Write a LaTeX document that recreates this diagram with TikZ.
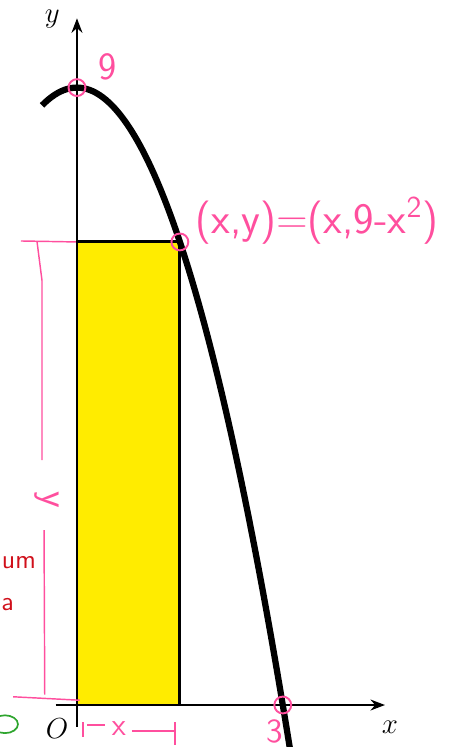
\documentclass[tikz,border=0pt]{standalone}
\usepackage{xcolor}
\usepackage{tikz}
\usetikzlibrary{arrows.meta,positioning,calc}
\definecolor{ink}{HTML}{FF4F9E}
\definecolor{boxfill}{HTML}{FFEC00}
\definecolor{redink}{HTML}{D0101B}
\definecolor{greenink}{HTML}{2EA52E}

\begin{document}
\begin{tikzpicture}[
  axis/.style={-{Stealth[length=6pt,width=4.5pt]},line width=1.2pt},
  curve/.style={line width=2.6pt},
  box/.style={fill=boxfill,draw=black,line width=1.2pt},
  pen/.style={draw=ink,line width=0.6pt},
  hand/.style={text=ink,font=\sffamily\fontsize{16}{18}\selectfont,inner sep=0pt},
  note/.style={text=redink,font=\sffamily\fontsize{11}{13}\selectfont,inner sep=0pt,anchor=west},
  dot/.style={draw=ink,line width=0.8pt,circle,inner sep=0pt,minimum size=7pt}
]
\useasboundingbox (-1.122,-0.612) rectangle (5.437,10.277);
% rectangle under the curve
\coordinate (o) at (0,0);
\coordinate (c) at (1.5,6.75);
\draw[box] (o) rectangle (c);
% axes
\coordinate (xs) at (-0.31,0);
\coordinate (xe) at (4.49,0);
\coordinate (ys) at (0,-0.32);
\coordinate (ye) at (0,10.01);
\draw[axis] (xs) -- (xe);
\draw[axis] (ys) -- (ye);
\node[font=\large,inner sep=0pt] (xl) at (4.56,-0.32) {$x$};
\node[font=\large,inner sep=0pt] (yl) at (-0.36,10.0) {$y$};
\node[font=\large,inner sep=0pt] (ol) at (-0.29,-0.34) {$O$};
% y = 9 - x^2
\draw[curve] plot[domain=-0.51:3.16,samples=80,smooth] (\x,{9-\x*\x});
% marked points
\node[dot] (top) at (0,9) {};
\node[dot] (corner) at (c) {};
\node[dot] (root) at (3,0) {};
\node[hand] (nine) at (0.44,9.30) {9};
\node[hand,font=\sffamily\fontsize{18}{20}\selectfont] (pt) at (3.50,7.06) {(x,y)=(x,9-x\textsuperscript{2})};
\node[hand,font=\sffamily\fontsize{14}{16}\selectfont] (three) at (2.88,-0.39) {3};
% height bracket
\draw[pen] (-0.816,6.764) -- (-0.015,6.75);
\draw[pen] (-0.583,6.76) -- (-0.51,6.19) -- (-0.51,3.57);
\node[hand,rotate=-90] (hy) at (-0.44,2.99) {y};
\draw[pen] (-0.48,2.55) -- (-0.47,0.15);
\draw[pen] (-0.93,0.12) -- (0.04,0.07);
% width bracket
\draw[pen] (0.09,-0.25) -- (0.09,-0.47);
\draw[pen] (0.15,-0.29) -- (0.41,-0.29);
\node[hand,font=\sffamily\fontsize{13}{15}\selectfont] (wx) at (0.61,-0.35) {x};
\draw[pen] (0.80,-0.38) -- (1.43,-0.38);
\draw[pen] (1.43,-0.25) -- (1.43,-0.58);
% notes at the left edge
\node[note] (um) at (-1.10,2.07) {um};
\node[note] (na) at (-1.11,1.46) {a};
\draw[greenink,line width=0.7pt] (-1.05,-0.28) ellipse (0.19 and 0.13);
\end{tikzpicture}
\end{document}
